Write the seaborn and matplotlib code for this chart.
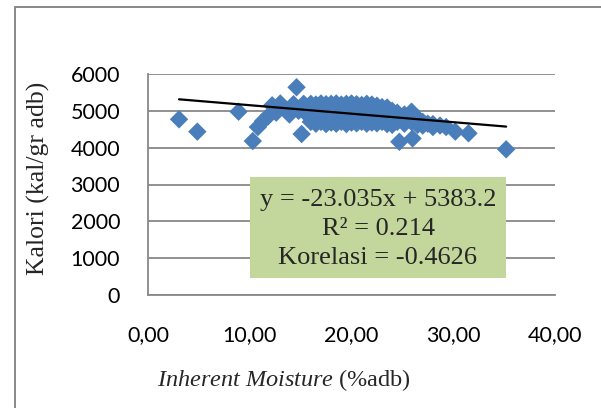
import numpy as np
import pandas as pd
import matplotlib
matplotlib.use("Agg")
import matplotlib.pyplot as plt
from matplotlib.patches import Rectangle
from matplotlib.ticker import FuncFormatter
import seaborn as sns

# ---- data ----
moisture = [3.05, 4.85, 8.9, 10.3, 14.6, 15.1, 35.2, 31.5, 30.2,
            10.8, 11.3, 11.8, 12.2, 12.6, 13.0, 13.5, 13.9, 14.3, 14.8, 15.3, 15.7,
            16.0, 16.0, 16.0, 16.5, 16.5, 17.0, 17.0, 17.0, 17.5, 17.5,
            18.0, 18.0, 18.0, 18.5, 18.5, 19.0, 19.0, 19.0, 19.5, 19.5,
            20.0, 20.0, 20.0, 20.5, 20.5, 21.0, 21.0, 21.0, 21.5, 21.5,
            22.0, 22.0, 22.0, 22.5, 22.5, 23.0, 23.0, 23.0, 23.5, 23.5,
            24.0, 24.0, 24.0, 24.5, 24.5, 24.7, 25.2, 25.2, 25.9, 25.9, 26.0,
            26.5, 26.5, 27.0, 27.0, 27.5, 28.0, 28.0, 28.7, 29.3]
kalori = [4770, 4435, 4977, 4180, 5640, 4370, 3955, 4390, 4435,
          4560, 4720, 4850, 5150, 4950, 5200, 5050, 4900, 5180, 5000, 5190, 4880,
          5190, 4700, 4950, 5170, 4650, 5200, 4920, 4700, 5180, 4640,
          5190, 4930, 4680, 5200, 4650, 5170, 4900, 4700, 5190, 4640,
          5200, 4920, 4680, 5180, 4660, 5160, 4900, 4700, 5190, 4650,
          5170, 4920, 4680, 5140, 4660, 5100, 4880, 4700, 5090, 4640,
          5000, 4800, 4620, 4950, 4700, 4160, 4900, 4650, 4977, 4700, 4250,
          4800, 4620, 4700, 4600, 4650, 4640, 4560, 4600, 4560]
slope = -23.035
intercept = 5383.2
r_squared = 0.214
korelasi = -0.4626
x_ticks = [0, 10, 20, 30, 40]
y_ticks = [0, 1000, 2000, 3000, 4000, 5000, 6000]

df = pd.DataFrame({"moisture": moisture, "kalori": kalori})

sns.set_theme(style="white")
plt.rcParams["font.family"] = ["Lato", "DejaVu Sans"]
plt.rcParams["mathtext.fontset"] = "custom"
plt.rcParams["mathtext.it"] = "Liberation Serif:italic"
plt.rcParams["mathtext.rm"] = "Liberation Serif"

W, H = 601, 408
fig = plt.figure(figsize=(W / 100, H / 100), dpi=100)
ax = fig.add_axes([148 / W, 1 - 295 / H, (555 - 148) / W, (295 - 74) / H])

grid_c = "#888888"
ax.set_xlim(0, 40)
ax.set_ylim(0, 6000)
ax.set_xticks(x_ticks)
ax.set_yticks(y_ticks)
ax.yaxis.grid(True, color=grid_c, lw=1.3)
ax.xaxis.grid(False)
ax.set_axisbelow(True)
for s in ["top", "right"]:
    ax.spines[s].set_visible(False)
for s in ["left", "bottom"]:
    ax.spines[s].set_color(grid_c)
    ax.spines[s].set_linewidth(1.3)

sns.scatterplot(data=df, x="moisture", y="kalori", marker="D", s=88,
                color="#4A7EBB", edgecolor="none", linewidth=0, ax=ax, zorder=3)

xl = np.array([min(moisture), max(moisture)])
ax.plot(xl, slope * xl + intercept, color="black", lw=1.6, zorder=4)

ax.xaxis.set_major_formatter(FuncFormatter(lambda v, p: f"{v:.2f}".replace(".", ",")))
ax.tick_params(axis="both", length=0, labelsize=15.5, colors="black")
ax.tick_params(axis="y", pad=20)
ax.tick_params(axis="x", pad=22)
ax.set_xlabel("")
ax.set_ylabel("")

# axis titles
fig.text(38 / W, 1 - 178 / H, "Kalori (kal/gr adb)", rotation=90,
         ha="center", va="center", family="Liberation Serif", fontsize=18.5)
fig.text(284 / W, 1 - 380 / H, r"$\mathit{Inherent\ Moisture}$ (%adb)",
         ha="center", va="center", family="Liberation Serif", fontsize=17.5)

# outer frame (left and top edges visible)
fig.add_artist(Rectangle((15 / W, -0.2), 1.2, (1 - 7 / H) + 0.2,
                         transform=fig.transFigure, fill=False,
                         edgecolor=grid_c, lw=1.4, clip_on=False))

# equation box
fig.add_artist(Rectangle((250 / W, 1 - 278 / H), 256 / W, 101 / H,
                         transform=fig.transFigure, facecolor="#C3D69B",
                         edgecolor="none", zorder=5))
lines = [f"y = {slope:.3f}x + {intercept:.1f}",
         f"R² = {r_squared:.3f}",
         f"Korelasi = {korelasi:.4f}"]
for txt, yp in zip(lines, [200, 229, 258]):
    fig.text(378 / W, 1 - yp / H, txt, ha="center", va="center",
             family="Liberation Serif", fontsize=19, zorder=6)

fig.savefig("out.png", dpi=100)
